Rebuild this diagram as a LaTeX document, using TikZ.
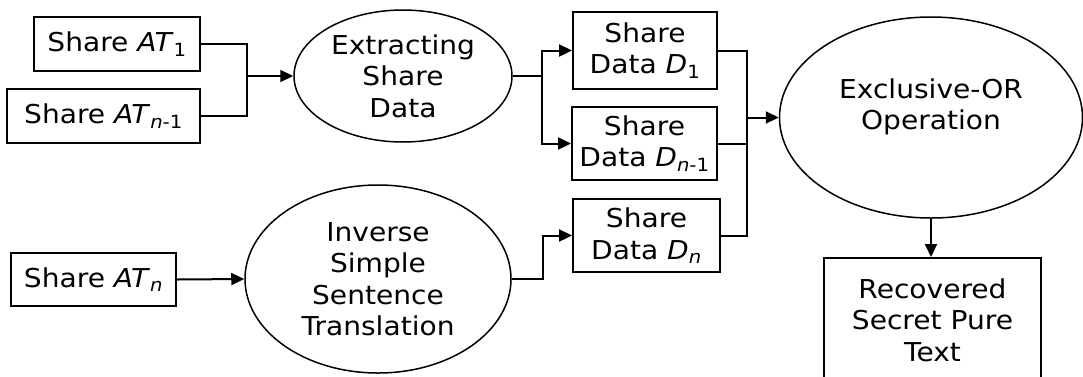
\documentclass[tikz,border=0pt]{standalone}
\usepackage{fontspec}
\setmainfont[FakeStretch=1.08]{DejaVu Sans}
\usetikzlibrary{arrows.meta,shapes.geometric}
\tikzset{
  lbl/.style={font=\fontsize{26}{31.5}\selectfont, align=center, inner sep=0pt},
  box/.style={lbl, draw, line width=1.9pt, rectangle},
  oval/.style={lbl, draw, line width=1.5pt, ellipse, inner sep=0pt},
  conn/.style={line width=2pt},
  arr/.style={conn, -{Triangle[length=13pt,width=12pt]}}
}
\begin{document}
\begin{tikzpicture}[x=1pt,y=-1pt]
\useasboundingbox[fill=white] (0,0) rectangle (1083,376);
% input boxes
\node[box, minimum width=166pt, minimum height=54pt] (at1) at (117,44) {Share \textit{AT}\textsubscript{1}};
\node[box, minimum width=193pt, minimum height=54pt] (atn1) at (103.5,116) {Share \textit{AT}\textsubscript{\textit{n}-1}};
\node[box, minimum width=165pt, minimum height=53pt] (atn) at (93.5,279.5) {Share \textit{AT}\textsubscript{\textit{n}}};
% ellipses
\node[oval, minimum width=218pt, minimum height=132pt] (ext) at (403,76) {Extracting\\Share\\Data};
\node[oval, minimum width=266pt, minimum height=188pt] (inv) at (378,279) {Inverse\\Simple\\Sentence\\Translation};
\node[oval, minimum width=303pt, minimum height=201pt] (xor) at (931,117.5) {};
\node[lbl] (xortxt) at (931,107) {Exclusive-OR\\Operation};
% share data boxes
\node[box, minimum width=144pt, minimum height=77pt] (d1) at (645,50.5) {Share\\Data \textit{D}\textsubscript{1}};
\node[box, minimum width=145pt, minimum height=73pt] (dn1) at (644.5,143.5) {Share\\Data \textit{D}\textsubscript{\textit{n}-1}};
\node[box, minimum width=147pt, minimum height=73pt] (dn) at (646.5,235.5) {Share\\Data \textit{D}\textsubscript{\textit{n}}};
% output box
\node[box, minimum width=217pt, minimum height=124pt, anchor=north] (rec) at (932.5,257) {Recovered\\Secret Pure\\Text};
% connectors
\coordinate (j1) at (247,76);
\draw[conn] (at1.east) -| (j1);
\draw[conn] (atn1.east) -| (j1);
\draw[arr] (j1) -- (ext.west);
\coordinate (j2) at (542,76);
\draw[conn] (ext.east) -- (j2);
\draw[arr] (j2) |- (d1.west);
\draw[arr] (j2) |- (dn1.west);
\draw[arr] (atn.east) -- (inv.west);
\draw[arr] (inv.east) -- ++(31,0) |- (dn.west);
\coordinate (j3) at (747,117.5);
\draw[conn] (d1.east) -| (j3);
\draw[conn] (dn1.east) -| (j3);
\draw[conn] (dn.east) -| (j3);
\draw[arr] (j3) -- (xor.west);
\draw[arr] (xor.south) -- (xor.south |- rec.north);
\end{tikzpicture}
\end{document}
